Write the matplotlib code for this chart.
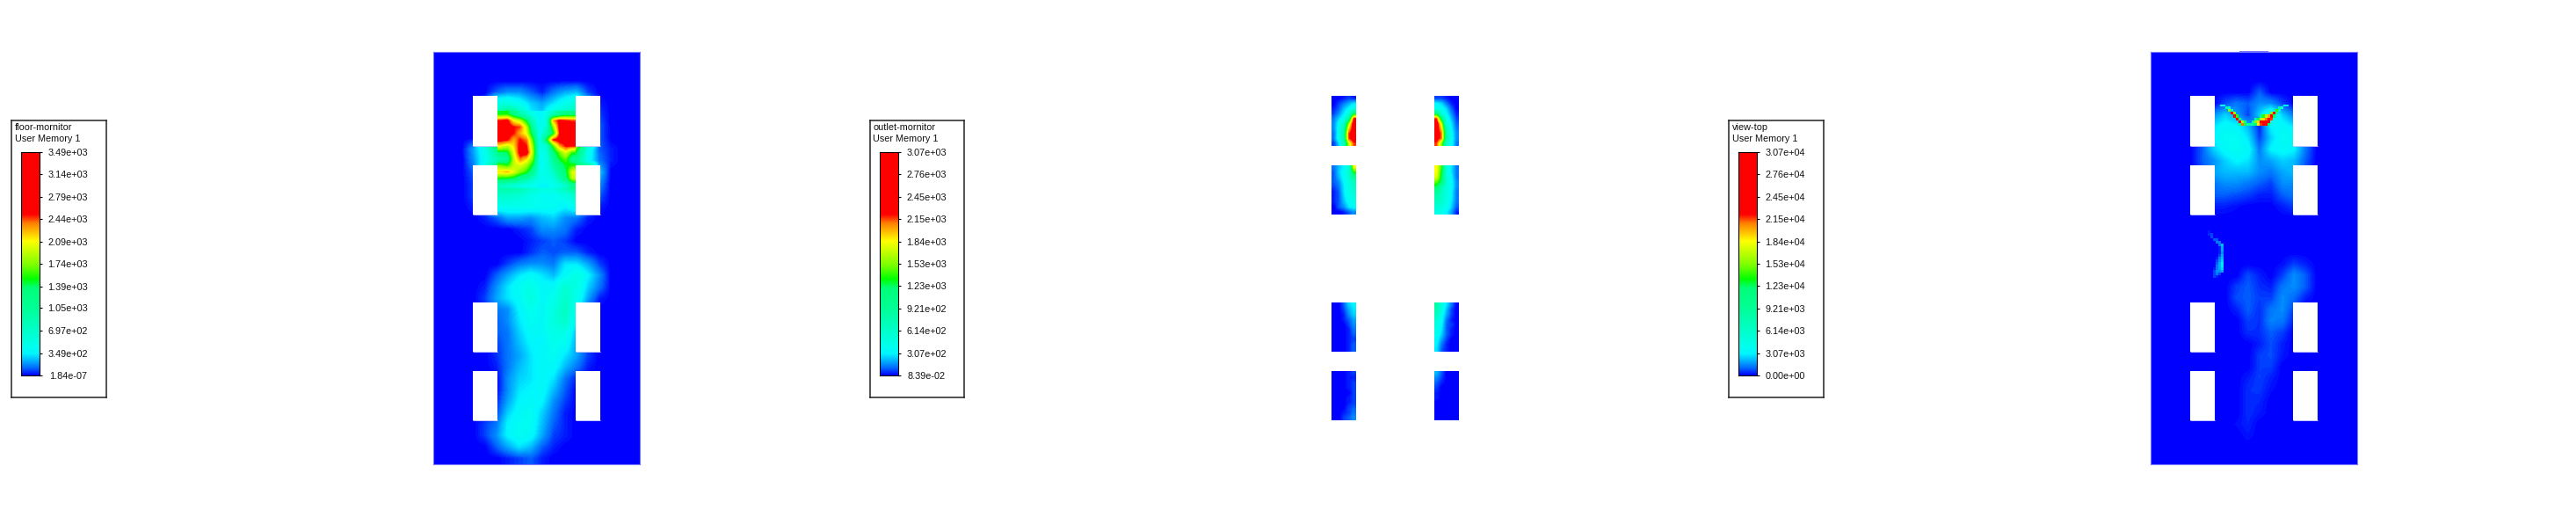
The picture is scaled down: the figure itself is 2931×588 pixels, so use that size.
import numpy as np
import matplotlib
matplotlib.use('Agg')
import matplotlib.pyplot as plt
from matplotlib.colors import LinearSegmentedColormap
from matplotlib.patches import Rectangle

plt.rcParams['font.family'] = ['Liberation Sans', 'DejaVu Sans']

ANCHO, ALTO = 2931, 588
_ = np.nan

# leyendas
titulos = ['floor-mornitor', 'outlet-mornitor', 'view-top']
variable = 'User Memory 1'
ticks_floor = ['1.84e-07', '3.49e+02', '6.97e+02', '1.05e+03', '1.39e+03', '1.74e+03',
               '2.09e+03', '2.44e+03', '2.79e+03', '3.14e+03', '3.49e+03']
ticks_outlet = ['8.39e-02', '3.07e+02', '6.14e+02', '9.21e+02', '1.23e+03', '1.53e+03',
                '1.84e+03', '2.15e+03', '2.45e+03', '2.76e+03', '3.07e+03']
ticks_view = ['0.00e+00', '3.07e+03', '6.14e+03', '9.21e+03', '1.23e+04', '1.53e+04',
              '1.84e+04', '2.15e+04', '2.45e+04', '2.76e+04', '3.07e+04']

# campo del piso, en % del maximo (18 columnas x 36 filas)
campo_floor = np.array([
    [0, 0, 0, 0, 0, 0, 0, 0, 0, 0, 0, 0, 0, 0, 0, 0, 0, 0],
    [0, 0, 0, 0, 0, 0, 0, 0, 0, 0, 0, 0, 0, 0, 0, 0, 0, 0],
    [0, 0, 0, 0, 0, 0, 0, 0, 0, 0, 0, 0, 0, 0, 0, 0, 0, 0],
    [0, 0, 0, 0, 0, 3, 5, 5, 3, 1, 4, 6, 7, 2, 0, 0, 0, 0],
    [0, 0, 0, 0, 2, 15, 15, 12, 8, 6, 9, 13, 17, 8, 1, 0, 0, 0],
    [0, 0, 0, 0, 5, 22, 40, 25, 10, 8, 18, 22, 25, 10, 2, 0, 0, 0],
    [0, 0, 0, 0, 30, 75, 75, 60, 30, 10, 55, 75, 72, 40, 3, 0, 0, 0],
    [0, 0, 0, 0, 30, 75, 72, 68, 55, 12, 65, 75, 75, 35, 3, 0, 0, 0],
    [0, 0, 0, 6, 13, 32, 55, 72, 60, 15, 55, 70, 45, 14, 3, 1, 0, 0],
    [0, 0, 0, 5, 12, 22, 55, 60, 55, 15, 40, 55, 30, 12, 4, 1, 0, 0],
    [0, 0, 0, 3, 15, 50, 60, 52, 35, 15, 28, 42, 55, 50, 8, 0, 0, 0],
    [0, 0, 0, 2, 12, 30, 32, 32, 25, 18, 20, 30, 42, 20, 5, 0, 0, 0],
    [0, 0, 0, 2, 10, 20, 20, 18, 14, 12, 12, 15, 20, 12, 3, 0, 0, 0],
    [0, 0, 0, 1, 4, 13, 13, 13, 13, 12, 12, 10, 13, 5, 1, 0, 0, 0],
    [0, 0, 0, 0, 1, 3, 6, 6, 5, 7, 8, 5, 4, 1, 0, 0, 0, 0],
    [0, 0, 0, 0, 0, 0, 0, 1, 2, 5, 5, 4, 1, 0, 0, 0, 0, 0],
    [0, 0, 0, 0, 0, 0, 0, 0, 1, 2, 3, 2, 0, 0, 0, 0, 0, 0],
    [0, 0, 0, 0, 0, 0, 0, 0, 1.5, 3, 2.5, 3, 3, 1, 0, 0, 0, 0],
    [0, 0, 0, 0, 0, 0, 2, 4, 5, 5, 4, 9, 9, 6, 2, 0, 0, 0],
    [0, 0, 0, 0, 0, 3, 6, 9, 11, 9, 7, 11, 15, 10, 5, 0, 0, 0],
    [0, 0, 0, 0, 1, 5, 9, 12, 14, 11, 11, 18, 15, 8, 4, 0, 0, 0],
    [0, 0, 0, 0, 2, 6, 9, 11, 16, 11, 13, 20, 13, 6, 1, 0, 0, 0],
    [0, 0, 0, 0, 1, 4, 5, 10, 13, 11, 15, 22, 11, 3, 0, 0, 0, 0],
    [0, 0, 0, 0, 1, 3, 5, 9, 12, 11, 16, 20, 9, 2, 0, 0, 0, 0],
    [0, 0, 0, 0, 0, 3, 4, 8, 11, 11, 14, 14, 7, 2, 0, 0, 0, 0],
    [0, 0, 0, 0, 0, 2, 4, 7, 10, 10, 13, 12, 6, 2, 0, 0, 0, 0],
    [0, 0, 0, 0, 0, 1.5, 4, 6, 9, 11, 12, 9, 6, 2, 0, 0, 0, 0],
    [0, 0, 0, 0, 0, 1, 4, 7, 9, 11, 11, 7, 4, 1, 0, 0, 0, 0],
    [0, 0, 0, 0, 0, 0, 5, 8, 9, 11, 9, 4, 1, 0, 0, 0, 0, 0],
    [0, 0, 0, 0, 0, 0, 5, 9, 10, 11, 7, 3, 0, 0, 0, 0, 0, 0],
    [0, 0, 0, 0, 0, 1, 6, 10, 11, 10, 5, 2, 0, 0, 0, 0, 0, 0],
    [0, 0, 0, 0, 0, 2, 8, 11, 12, 8, 4, 1, 0, 0, 0, 0, 0, 0],
    [0, 0, 0, 0, 2, 4, 10, 12, 12, 7, 3, 1, 0, 0, 0, 0, 0, 0],
    [0, 0, 0, 0, 2, 5, 10, 12, 11, 6, 2, 1, 0, 0, 0, 0, 0, 0],
    [0, 0, 0, 0, 0, 3, 6, 9, 7, 3, 1, 0, 0, 0, 0, 0, 0, 0],
    [0, 0, 0, 0, 0, 0, 1, 2, 3, 1, 0, 0, 0, 0, 0, 0, 0, 0],
])

# detalle de la zona caliente del piso, entre las ruedas delanteras (12 x 12)
campo_caliente = np.array([
    [42, 43, 35, 25, 18, 13, 10, 13, 22, 30, 35, 35],
    [72, 75, 60, 55, 40, 20, 11, 15, 65, 74, 72, 70],
    [76, 76, 72, 70, 55, 27, 11, 17, 50, 74, 76, 76],
    [76, 75, 72, 65, 58, 35, 12, 25, 40, 72, 76, 76],
    [75, 73, 65, 72, 68, 45, 13, 40, 72, 76, 76, 76],
    [60, 55, 62, 75, 72, 50, 13, 18, 45, 65, 72, 72],
    [38, 40, 58, 76, 76, 52, 13, 15, 35, 48, 58, 45],
    [25, 30, 55, 68, 62, 48, 12, 14, 30, 42, 48, 32],
    [50, 45, 55, 57, 52, 40, 12, 14, 25, 35, 42, 45],
    [62, 65, 58, 50, 44, 32, 13, 14, 20, 30, 40, 58],
    [43, 42, 40, 32, 28, 20, 13, 13, 15, 25, 36, 55],
    [22, 20, 18, 16, 14, 13, 11, 11, 13, 15, 20, 32],
])

# campo de la vista superior (misma grilla)
campo_view = np.array([
    [0, 0, 0, 0, 0, 0, 0, 0, 0, 0, 0, 0, 0, 0, 0, 0, 0, 0],
    [0, 0, 0, 0, 0, 0, 0, 0, 0, 0, 0, 0, 0, 0, 0, 0, 0, 0],
    [0, 0, 0, 0, 0, 0, 0, 0, 0, 0, 0, 0, 0, 0, 0, 0, 0, 0],
    [0, 0, 0, 0, 0, 0, 0, 0, 0, 3, 0, 0, 0, 0, 0, 0, 0, 0],
    [0, 0, 0, 0, 0, 0, 2.5, 4, 3, 5, 5, 2, 0, 0, 0, 0, 0, 0],
    [0, 0, 0, 0, 0, 5, 8, 6, 2, 8, 15, 8, 4, 0, 0, 0, 0, 0],
    [0, 0, 0, 0, 1, 9, 11, 10, 7, 1, 10, 11, 9, 3, 0, 0, 0, 0],
    [0, 0, 0, 0, 2, 10, 12, 12, 9, 2, 8, 12, 11, 4, 0, 0, 0, 0],
    [0, 0, 0, 0, 3, 8, 11, 12, 11, 4, 10, 11, 10, 4, 0, 0, 0, 0],
    [0, 0, 0, 0, 3, 5, 8, 10, 9, 5, 6, 8, 7, 3, 0, 0, 0, 0],
    [0, 0, 0, 0, 2, 6, 7, 7, 7, 5, 4, 6, 7, 2, 0, 0, 0, 0],
    [0, 0, 0, 0, 1, 4, 5, 5, 4, 3, 2, 5, 5, 1, 0, 0, 0, 0],
    [0, 0, 0, 0, 0, 3, 3, 2.5, 2, 1, 1, 3, 4, 1, 0, 0, 0, 0],
    [0, 0, 0, 0, 0, 1, 1, 0.5, 0, 0, 0, 1, 2, 0, 0, 0, 0, 0],
    [0, 0, 0, 0, 0, 0, 0, 0, 0, 0, 0, 0, 0, 0, 0, 0, 0, 0],
    [0, 0, 0, 0, 0, 0, 0, 0, 0, 0, 0, 0, 0, 0, 0, 0, 0, 0],
    [0, 0, 0, 0, 0, 0, 0, 0, 0, 0, 0, 0, 0, 0, 0, 0, 0, 0],
    [0, 0, 0, 0, 0, 0, 0, 0, 0, 0, 0, 0, 0, 0, 0, 0, 0, 0],
    [0, 0, 0, 0, 0, 0, 0, 0, 0, 0, 0, 0.5, 2, 1, 0, 0, 0, 0],
    [0, 0, 0, 0, 0, 0, 0, 0, 2.5, 1, 0, 2, 5, 3, 0, 0, 0, 0],
    [0, 0, 0, 0, 0, 0, 0, 2, 3, 1.5, 1, 4, 5, 3, 0, 0, 0, 0],
    [0, 0, 0, 0, 0, 0, 0, 2.5, 3, 2, 2, 5, 3.5, 1, 0, 0, 0, 0],
    [0, 0, 0, 0, 0, 0, 0, 1, 3, 1.5, 4, 5, 2, 0, 0, 0, 0, 0],
    [0, 0, 0, 0, 0, 0, 0, 0, 2, 1.5, 4.5, 4, 1, 0, 0, 0, 0, 0],
    [0, 0, 0, 0, 0, 0, 0, 0, 1.5, 1.5, 3, 2, 0, 0, 0, 0, 0, 0],
    [0, 0, 0, 0, 0, 0, 0, 0, 0, 1, 2.5, 1, 0, 0, 0, 0, 0, 0],
    [0, 0, 0, 0, 0, 0, 0, 0, 0, 2, 2.5, 0.8, 0, 0, 0, 0, 0, 0],
    [0, 0, 0, 0, 0, 0, 0, 0, 0, 2, 2, 0, 0, 0, 0, 0, 0, 0],
    [0, 0, 0, 0, 0, 0, 0, 0, 1, 2, 1, 0, 0, 0, 0, 0, 0, 0],
    [0, 0, 0, 0, 0, 0, 0, 0, 1.5, 1.8, 0.5, 0, 0, 0, 0, 0, 0, 0],
    [0, 0, 0, 0, 0, 0, 0, 0, 1.5, 1.2, 0, 0, 0, 0, 0, 0, 0, 0],
    [0, 0, 0, 0, 0, 0, 0, 0, 1.5, 0.8, 0, 0, 0, 0, 0, 0, 0, 0],
    [0, 0, 0, 0, 0, 0, 0, 0.5, 1.2, 0, 0, 0, 0, 0, 0, 0, 0, 0],
    [0, 0, 0, 0, 0, 0, 0, 0, 0.7, 0, 0, 0, 0, 0, 0, 0, 0, 0],
    [0, 0, 0, 0, 0, 0, 0, 0, 0, 0, 0, 0, 0, 0, 0, 0, 0, 0],
    [0, 0, 0, 0, 0, 0, 0, 0, 0, 0, 0, 0, 0, 0, 0, 0, 0, 0],
])

# deflector en V de la vista superior (celdas de 3 px)
campo_v = np.array([
    [12, 10, _, _, _, _, _, _, _, _, _, _, _, _, _, _, _, _, _, _, _, _, _, _, 11, 9],
    [_, _, 25, 15, _, _, _, _, _, _, _, _, _, _, _, _, _, _, _, _, _, _, 30, 15, _, _],
    [_, _, _, 50, 25, _, _, _, _, _, _, _, _, _, _, _, _, _, _, _, _, 45, 20, _, _, _],
    [_, _, _, _, 72, 50, _, _, _, _, _, _, _, _, _, _, _, _, _, 50, 72, 30, _, _, _, _],
    [_, _, _, _, _, 75, 45, _, _, _, _, _, _, _, _, 35, 45, 55, 65, 75, 40, _, _, _, _, _],
    [_, _, _, _, _, _, 75, 35, _, _, _, _, _, 28, 40, 55, 62, 68, 75, 70, _, _, _, _, _, _],
    [_, _, _, _, _, _, _, 72, 55, 30, _, _, 25, 50, 62, 75, 78, 78, 78, _, _, _, _, _, _, _],
    [_, _, _, _, _, _, _, 35, 68, 40, 30, 28, 28, 35, 60, 70, 78, 75, 40, _, _, _, _, _, _, _],
])

# chapa lateral de la vista superior (celdas de 3 px)
campo_chapa = np.array([
    [1, _, _, _, _, _],
    [1.5, 2, _, _, _, _],
    [_, 2.5, _, _, _, _],
    [_, _, 3, 3, _, _],
    [_, _, _, 4, 4, _],
    [_, _, _, _, 4, 7],
    [_, _, _, _, 1, 6],
    [_, _, _, _, 1, 6],
    [_, _, _, _, 1, 5],
    [_, _, _, _, 2, 6],
    [_, _, _, 1, 4, 7],
    [_, _, _, 2, 5, 8],
    [_, _, _, 3, 6, 9],
    [_, _, _, 4, 6, 9],
    [_, _, 1, 4, 6, 8],
    [_, _, 2, 5, 5, 6],
    [_, _, 2, 4, 2, _],
    [_, _, 2, 1, _, _],
])

# parches de la salida, izquierda y derecha de cada rueda (5 columnas x 10 filas)
salida_1i = np.array([[0, 0, 1, 2, 1], [0, 2, 4, 6, 9], [1, 3, 7, 10, 14], [2, 5, 9, 15, 38], [4, 8, 12, 28, 72],
                      [5, 11, 20, 52, 78], [5, 12, 25, 62, 78], [4, 12, 28, 70, 78], [4, 13, 28, 70, 78], [2, 8, 22, 55, 70]])
salida_1d = np.array([[2, 2, 1, 0, 0], [10, 8, 4, 1, 0], [13, 12, 8, 3, 0], [36, 15, 10, 5, 1], [70, 35, 13, 7, 2],
                      [78, 55, 14, 9, 3], [78, 62, 22, 10, 4], [78, 68, 25, 11, 5], [76, 68, 26, 12, 5], [70, 50, 20, 11, 4]])
salida_2i = np.array([[4, 7, 10, 17, 60], [3, 8, 11, 18, 45], [3, 7, 11, 18, 32], [3, 5, 10, 16, 22], [2, 4, 9, 15, 20],
                      [1, 3, 9, 14, 18], [1, 3, 8, 13, 15], [1, 3, 7, 11, 14], [0, 3, 5, 9, 11], [0, 0, 1, 3, 5]])
salida_2d = np.array([[60, 45, 15, 9, 4], [60, 42, 16, 9, 4], [58, 40, 17, 10, 4], [48, 38, 17, 11, 5], [40, 25, 17, 11, 5],
                      [30, 22, 15, 10, 4], [25, 20, 15, 10, 4], [22, 20, 14, 9, 4], [18, 15, 13, 8, 3], [14, 14, 10, 6, 1]])
salida_3i = np.array([[0, 0, 3, 8, 10], [0, 0, 2, 6, 9], [0, 0, 1, 5, 8], [0, 0, 1, 3, 6], [0, 0, 0, 2, 5],
                      [0, 0, 0, 1, 4], [0, 0, 0, 1, 3], [0, 0, 0, 1, 2], [0, 0, 0, 1, 3], [0, 0, 0, 1, 3]])
salida_3d = np.array([[28, 15, 9, 4, 0], [25, 14, 7, 2, 0], [22, 12, 6, 2, 0], [18, 11, 4, 1, 0], [16, 10, 3, 2, 0],
                      [14, 9, 3, 1, 0], [13, 8, 3, 1, 0], [11, 6, 2, 0, 0], [10, 4, 1, 0, 0], [9, 3, 1, 0, 0]])
salida_4i = np.array([[0, 0, 0, 1, 2], [0, 0, 0, 1, 1], [0, 0, 0, 1, 2], [0, 0, 0, 1, 2], [0, 0, 0, 0, 2],
                      [0, 0, 0, 1, 2], [0, 0, 0, 1, 2], [0, 0, 0, 2, 3], [0, 0, 1, 2, 4], [0, 0, 2, 3, 5]])
salida_4d = np.array([[7, 3, 0, 0, 0], [5, 2, 0, 0, 0], [3, 1, 0, 0, 0], [2, 0, 0, 0, 0], [1, 0, 0, 0, 0],
                      [1, 0, 0, 0, 0], [0, 0, 0, 0, 0], [0, 0, 0, 0, 0], [0, 0, 0, 0, 0], [0, 0, 0, 0, 0]])

# ruedas, en px de la figura
filas_rueda = [(109.3, 165.7), (187.7, 244), (344, 400), (422, 478.3)]
Y_DOM = (59.3, 528.3)

# escala de colores como la de la barra
mapa = LinearSegmentedColormap.from_list('fluent', [
    (0.00, '#0000ff'), (0.03, '#0064ff'), (0.06, '#00aaff'), (0.095, '#00f5ff'), (0.125, '#00fff0'),
    (0.30, '#00ff96'), (0.39, '#00ff78'), (0.43, '#00ff00'), (0.49, '#78ff00'), (0.60, '#ffff00'),
    (0.68, '#ff8000'), (0.72, '#ff0000'), (1.00, '#ff0000')], N=256)

fig = plt.figure(figsize=(ANCHO / 100, ALTO / 100), dpi=100, facecolor='white')


def ejes_px(x0, y0, x1, y1, **kw):
    # crea un axes dando su caja en px de la imagen (y hacia abajo)
    return fig.add_axes([x0 / ANCHO, 1 - y1 / ALTO, (x1 - x0) / ANCHO, (y1 - y0) / ALTO], **kw)


def leyenda(x_caja, titulo, etiquetas):
    caja = ejes_px(x_caja, 136.7, x_caja + 107.4, 451.7)
    caja.set_xticks([])
    caja.set_yticks([])
    for s in caja.spines.values():
        s.set_linewidth(1.1)
        s.set_color('#222222')
    fig.text((x_caja + 3.4) / ANCHO, 1 - 148.2 / ALTO, titulo, fontsize=7.8, color='#111111')
    fig.text((x_caja + 3.4) / ANCHO, 1 - 160.8 / ALTO, variable, fontsize=7.8, color='#111111')

    valores = [float(t) for t in etiquetas]
    barra = ejes_px(x_caja + 11, 172.7, x_caja + 32, 427)
    barra.imshow(np.linspace(0, 1, 256).reshape(-1, 1), cmap=mapa, origin='lower', aspect='auto',
                 extent=(0, 1, valores[0], valores[-1]))
    barra.set_xticks([])
    barra.yaxis.tick_right()
    barra.set_yticks(valores, etiquetas)
    barra.tick_params(axis='y', length=2, width=0.8, pad=21, labelsize=7.8, labelcolor='#111111')
    for lab in barra.get_yticklabels():
        lab.set_horizontalalignment('center')
    for s in barra.spines.values():
        s.set_linewidth(0.8)


def dominio(x0, x1, campo):
    ax = ejes_px(x0, Y_DOM[0], x1, Y_DOM[1])
    ax.imshow(campo, cmap=mapa, vmin=0, vmax=100, aspect='auto',
              interpolation='bilinear', interpolation_stage='data')
    ax.set_xticks([])
    ax.set_yticks([])
    for s in ax.spines.values():
        s.set_color('#7878ff')
        s.set_linewidth(0.8)
    return ax


def ruedas(x0, x1):
    # huecos blancos sobre el dominio
    fondo = ejes_px(x0, Y_DOM[0], x1, Y_DOM[1])
    fondo.set_xlim(x0, x1)
    fondo.set_ylim(Y_DOM[1], Y_DOM[0])
    fondo.axis('off')
    for xr in (x0 + 44.7, x0 + 161.7):
        for y0, y1 in filas_rueda:
            fondo.add_patch(Rectangle((xr, y0), 28, y1 - y0, facecolor='white', edgecolor='none'))
            fondo.plot([xr, xr + 28], [y1, y1], color='#c8c8ff', lw=0.7, solid_capstyle='butt')


def inserto(x0, y0, campo, paso=3):
    ax = ejes_px(x0, y0, x0 + campo.shape[1] * paso, y0 + campo.shape[0] * paso)
    ax.imshow(np.ma.masked_invalid(campo), cmap=mapa, vmin=0, vmax=100, aspect='auto', interpolation='nearest')
    ax.axis('off')


# panel 1: piso
leyenda(13.3, titulos[0], ticks_floor)
dominio(493.3, 727.7, campo_floor)
ax_cal = ejes_px(566, 126, 655, 214)
ax_cal.imshow(campo_caliente, cmap=mapa, vmin=0, vmax=100, aspect='auto',
              interpolation='bilinear', interpolation_stage='data')
ax_cal.axis('off')
ruedas(493.3, 727.7)

# panel 2: salida, solo los parches de las ruedas
leyenda(990, titulos[1], ticks_outlet)
parches = [salida_1i, salida_1d, salida_2i, salida_2d, salida_3i, salida_3d, salida_4i, salida_4d]
for i, parche in enumerate(parches):
    x0 = 1515 if i % 2 == 0 else 1632
    y0, y1 = filas_rueda[i // 2]
    ax = ejes_px(x0, y0, x0 + 28, y1)
    ax.imshow(parche, cmap=mapa, vmin=0, vmax=100, aspect='auto',
              interpolation='bilinear', interpolation_stage='data')
    ax.axis('off')

# panel 3: vista superior
leyenda(1967.3, titulos[2], ticks_view)
dominio(2447.3, 2681.7, campo_view)
ruedas(2447.3, 2681.7)
inserto(2526, 119, campo_v)
inserto(2512, 262, campo_chapa)
tope = ejes_px(2548, 57.5, 2581, 59.5)
tope.set_facecolor('#7878ff')
tope.set_xticks([])
tope.set_yticks([])
for s in tope.spines.values():
    s.set_visible(False)

fig.savefig('out.png', dpi=100)
